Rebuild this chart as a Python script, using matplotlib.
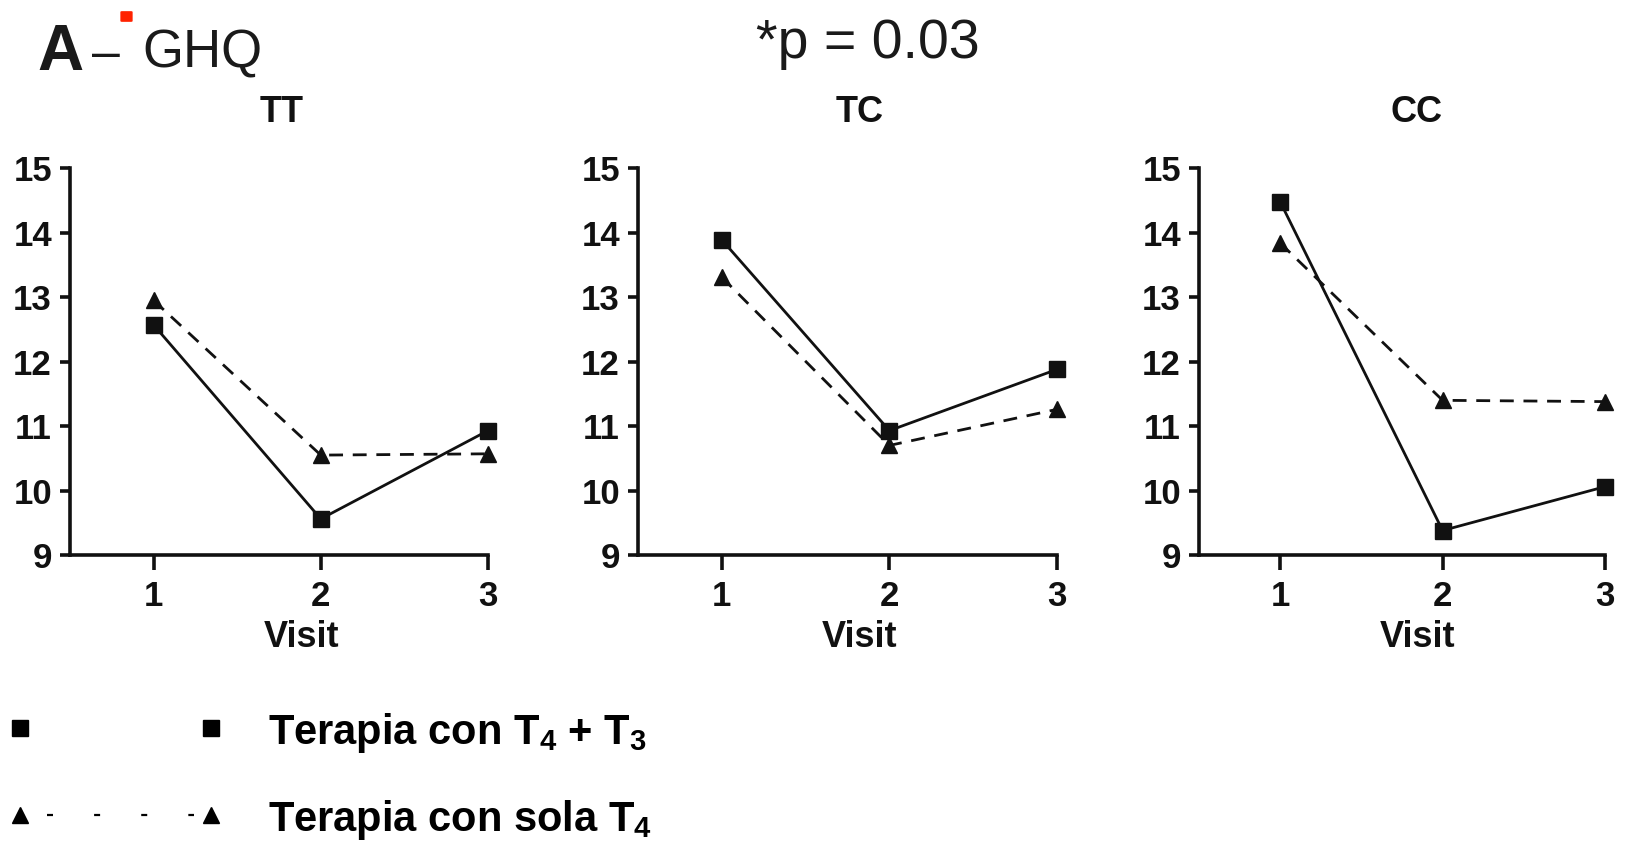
import matplotlib
matplotlib.use('Agg')
import matplotlib.pyplot as plt
from matplotlib import font_manager
from matplotlib.lines import Line2D
from matplotlib.patches import FancyBboxPatch

# data
visits = [1, 2, 3]
groups = ['TT', 'TC', 'CC']
t4t3 = {'TT': [12.57, 9.56, 10.93],
        'TC': [13.89, 10.93, 11.88],
        'CC': [14.48, 9.38, 10.06]}
t4_only = {'TT': [12.95, 10.55, 10.57],
           'TC': [13.31, 10.70, 11.26],
           'CC': [13.84, 11.40, 11.38]}
yticks = [9, 10, 11, 12, 13, 14, 15]
legend_labels = [r'Terapia con T$_4$ + T$_3$', r'Terapia con sola T$_4$']

names = {f.name for f in font_manager.fontManager.ttflist}
narrow = 'Liberation Sans Narrow' if 'Liberation Sans Narrow' in names else 'Liberation Sans'

plt.rcParams['font.family'] = ['Liberation Sans', 'DejaVu Sans']
plt.rcParams['mathtext.fontset'] = 'custom'
plt.rcParams['mathtext.rm'] = narrow + ':bold'
plt.rcParams['mathtext.it'] = narrow + ':bold'
plt.rcParams['mathtext.bf'] = narrow + ':bold'

W, H = 1639, 846
fig = plt.figure(figsize=(W / 100, H / 100), dpi=100)

# axes boxes in pixels: left, right, plus title / xlabel centres
boxes = [(70, 488), (638, 1057), (1199, 1605)]
title_x = [282, 860, 1417]
label_x = [302, 860, 1418]
top, bottom = 168.3, 555

for g, (x0, x1), tx, lx in zip(groups, boxes, title_x, label_x):
    ax = fig.add_axes([x0 / W, 1 - bottom / H, (x1 - x0) / W, (bottom - top) / H])
    ax.plot(visits, t4t3[g], color='#111111', lw=2.0, marker='s', ms=12,
            clip_on=False, zorder=3)
    ax.plot(visits, t4_only[g], color='#111111', lw=2.0, ls=(0, (5, 3.5)),
            marker='^', ms=11, clip_on=False, zorder=3)
    ax.set_xlim(0.5, 3)
    ax.set_ylim(9, 15)
    ax.set_xticks(visits)
    ax.set_yticks(yticks)
    for s in ['top', 'right']:
        ax.spines[s].set_visible(False)
    for s in ['left', 'bottom']:
        ax.spines[s].set_linewidth(2.6)
        ax.spines[s].set_color('#111111')
    ax.tick_params(axis='y', length=7, width=2.6, pad=6, labelsize=25, colors='#111111')
    ax.tick_params(axis='x', length=11, width=2.6, pad=7, labelsize=25, colors='#111111')
    for lab in ax.get_xticklabels() + ax.get_yticklabels():
        lab.set_fontweight('bold')
    ax.set_xlabel('Visit', fontsize=26, fontweight='bold', color='#111111')
    ax.xaxis.set_label_coords((lx - x0) / (x1 - x0), -0.168, transform=ax.transAxes)
    ax.text((tx - x0) / (x1 - x0), 1 + 46 / (bottom - top), g, transform=ax.transAxes,
            fontsize=26, fontweight='bold', color='#111111', ha='center', va='baseline')

# header texts
fig.text(37 / W, 1 - 70 / H, 'A', fontsize=46, fontweight='bold', color='#1a1a1a',
         ha='left', va='baseline')
fig.text(92 / W, 1 - 68 / H, '–', fontsize=36, color='#1a1a1a', ha='left', va='baseline')
fig.text(142 / W, 1 - 68 / H, 'GHQ', fontsize=38, color='#1a1a1a', ha='left', va='baseline')
fig.text(868 / W, 1 - 58 / H, '*p = 0.03', fontsize=40, color='#1a1a1a',
         ha='center', va='baseline')

# small red mark near the header
fig.add_artist(FancyBboxPatch((122 / W, 1 - 21 / H), 9 / W, 9 / H,
                              boxstyle='round,pad=0.001', transform=fig.transFigure,
                              facecolor='#ff2200', edgecolor='none'))

# legend, drawn by hand
row_y = [728, 815]
for i, (lab, y) in enumerate(zip(legend_labels, row_y)):
    yf = 1 - y / H
    if i == 0:
        fig.add_artist(Line2D([20 / W, 211 / W], [yf, yf], transform=fig.transFigure,
                              ls='none', marker='s', ms=11, color='black'))
    else:
        fig.add_artist(Line2D([47 / W, 194 / W], [yf, yf], transform=fig.transFigure,
                              lw=1.6, ls=(0, (2.7, 18.5)), color='black',
                              dash_capstyle='butt'))
        fig.add_artist(Line2D([20 / W, 211 / W], [yf, yf], transform=fig.transFigure,
                              ls='none', marker='^', ms=11, color='black'))
    fig.text(268 / W, 1 - (y + 16) / H, lab, fontsize=30, fontweight='bold',
             family=[narrow, 'DejaVu Sans'], ha='left', va='baseline', color='black')

fig.savefig('out.png', dpi=100, facecolor='white')
